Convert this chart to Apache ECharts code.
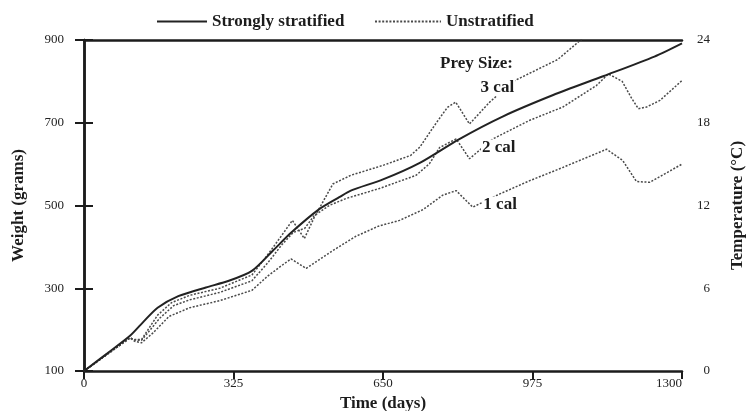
<!DOCTYPE html>
<html><head><meta charset="utf-8">
<script src="https://cdn.jsdelivr.net/npm/echarts@6/dist/echarts.min.js"></script>
<style>html,body{margin:0;padding:0;background:#fff}#c{width:747px;height:411px}</style>
</head><body><div id="c"></div>
<script>
// ---- data (days, weight in grams) ----
const stratDays   = [0, 50, 100, 130, 160, 205, 265, 315, 365, 410, 450, 510, 555, 580, 650, 730, 815, 910, 1020, 1130, 1240, 1300];
const stratWeight = [100, 142, 185, 220, 253, 281, 302, 318, 342, 390, 434, 490, 520, 536, 563, 603, 660, 715, 767, 813, 860, 892];

const cal3Days   = [0, 100, 110, 125, 160, 190, 230, 295, 365, 400, 430, 453, 479, 500, 520, 541, 580, 650, 710, 730, 766, 790, 808, 838, 882, 933, 1030, 1085];
const cal3Weight = [100, 180, 176, 176, 235, 265, 283, 300, 332, 382, 428, 464, 420, 470, 510, 552, 573, 597, 621, 641, 700, 737, 750, 697, 750, 800, 853, 905];

const cal2Days   = [0, 100, 110, 125, 165, 195, 230, 295, 365, 400, 430, 455, 480, 500, 533, 570, 642, 722, 751, 773, 809, 838, 889, 969, 1041, 1114, 1140, 1170, 1190, 1205, 1223, 1252, 1300];
const cal2Weight = [100, 180, 175, 174, 228, 258, 272, 290, 318, 362, 405, 435, 445, 475, 500, 517, 541, 573, 601, 640, 661, 613, 661, 706, 738, 790, 818, 800, 760, 734, 738, 754, 802];

const cal1Days   = [0, 100, 110, 125, 150, 185, 230, 295, 365, 400, 430, 450, 483, 541, 590, 640, 686, 737, 780, 809, 845, 904, 969, 1041, 1136, 1171, 1201, 1230, 1260, 1300];
const cal1Weight = [100, 180, 172, 168, 192, 232, 253, 270, 295, 330, 355, 371, 348, 391, 425, 450, 464, 490, 525, 536, 496, 528, 560, 592, 636, 609, 558, 556, 575, 600];

const xTicks = [0, 325, 650, 975, 1300];
const weightTicks = [100, 300, 500, 700, 900];
const tempTicks = [0, 6, 12, 18, 24];

// annotation anchors in data space [text, day, weight]
const annotations = [
  ['Prey Size:', 772, 843],
  ['3 cal', 860, 785],
  ['2 cal', 863, 639],
  ['1 cal', 866, 501]
];

const zip = (a, b) => a.map((v, i) => [v, b[i]]);
const FONT = 'Liberation Serif';
const INK = '#1c1c1c';
const axisLineStyle = { color: INK, width: 2.5 };
const titleStyle = { fontFamily: FONT, fontWeight: 'bold', fontSize: 17, color: INK };
const tickLabel = { fontFamily: FONT, fontSize: 13, color: '#222', formatter: v => String(v) };

const chart = echarts.init(document.getElementById('c'), null, { renderer: 'canvas' });
const dotted = { color: '#4a4a4a', width: 1.5, type: [2, 1.6] };

chart.setOption({
  backgroundColor: '#fff',
  animation: false,
  grid: { left: 84, right: 65, top: 40, bottom: 40, containLabel: false, outerBoundsMode: 'none' },
  legend: [
    { data: ['Strongly stratified'], left: 151, top: 8, itemWidth: 50, itemHeight: 12, itemGap: 5,
      itemStyle: { opacity: 0 }, textStyle: titleStyle },
    { data: ['Unstratified'], left: 369, top: 8, itemWidth: 66, itemHeight: 12, itemGap: 5,
      itemStyle: { opacity: 0 }, textStyle: titleStyle }
  ],
  xAxis: [
    { type: 'value', min: 0, max: 1300, interval: 325, position: 'bottom',
      axisLine: { show: true, lineStyle: axisLineStyle },
      axisTick: { show: true, length: 8, lineStyle: { color: INK, width: 2 }, customValues: xTicks },
      axisLabel: Object.assign({ margin: 6, customValues: xTicks, alignMaxLabel: 'right' }, tickLabel),
      splitLine: { show: false },
      name: 'Time (days)', nameLocation: 'middle', nameGap: 24, nameTextStyle: titleStyle },
    { type: 'value', min: 0, max: 1300, position: 'top',
      axisLine: { show: true, lineStyle: axisLineStyle },
      axisTick: { show: false }, axisLabel: { show: false }, splitLine: { show: false } }
  ],
  yAxis: [
    { type: 'value', min: 100, max: 900, interval: 100, position: 'left',
      axisLine: { show: true, lineStyle: axisLineStyle },
      axisTick: { show: true, length: 9, lineStyle: { color: INK, width: 2 }, customValues: weightTicks },
      axisLabel: Object.assign({ margin: 20, customValues: weightTicks }, tickLabel),
      splitLine: { show: false },
      name: 'Weight (grams)', nameLocation: 'middle', nameGap: 57, nameRotate: 90, nameTextStyle: titleStyle },
    { type: 'value', min: 0, max: 24, interval: 6, position: 'right',
      axisLine: { show: true, lineStyle: axisLineStyle },
      axisTick: { show: true, length: 9, lineStyle: { color: INK, width: 2 }, customValues: tempTicks },
      axisLabel: Object.assign({ margin: 28, align: 'right', customValues: tempTicks }, tickLabel),
      splitLine: { show: false },
      name: 'Temperature (°C)', nameLocation: 'middle', nameGap: 47, nameRotate: 90, nameTextStyle: titleStyle }
  ],
  series: [
    { name: 'Unstratified', type: 'line', data: zip(cal3Days, cal3Weight), symbol: 'none', clip: true, lineStyle: dotted, itemStyle: { color: '#4a4a4a' }, z: 2 },
    { name: 'Unstratified', type: 'line', data: zip(cal2Days, cal2Weight), symbol: 'none', clip: true, lineStyle: dotted, itemStyle: { color: '#4a4a4a' }, z: 2 },
    { name: 'Unstratified', type: 'line', data: zip(cal1Days, cal1Weight), symbol: 'none', clip: true, lineStyle: dotted, itemStyle: { color: '#4a4a4a' }, z: 2 },
    { name: 'Strongly stratified', type: 'line', data: zip(stratDays, stratWeight), symbol: 'none', smooth: 0.25, clip: true,
      lineStyle: { color: '#222', width: 2 }, itemStyle: { color: '#222' }, z: 3 }
  ]
});

const graphics = annotations.map(([txt, d, w]) => {
  const p = chart.convertToPixel({ xAxisIndex: 0, yAxisIndex: 0 }, [d, w]);
  return { type: 'text', x: p[0], y: p[1], z: 10,
    style: { text: txt, fill: INK, font: 'bold 17px "Liberation Serif"', verticalAlign: 'middle', align: 'left',
      backgroundColor: txt === 'Prey Size:' ? 'transparent' : '#fff', padding: [0, 1] } };
});
chart.setOption({ graphic: graphics });
</script>
</body></html>
